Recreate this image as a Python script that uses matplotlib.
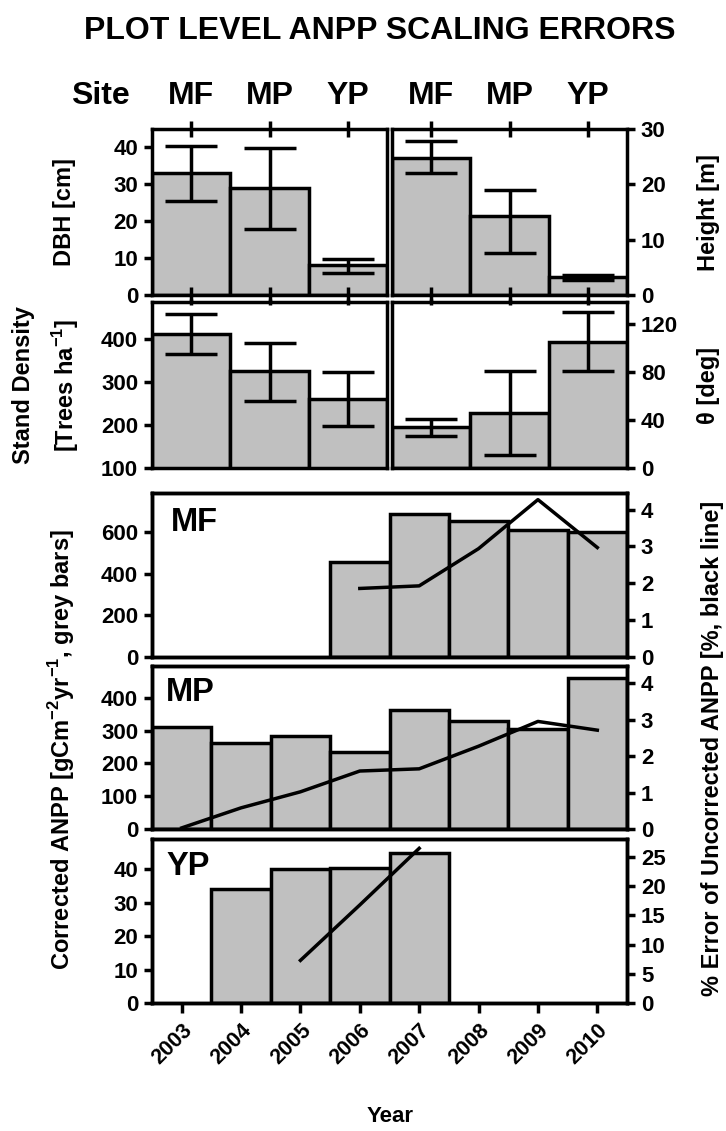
import numpy as np
import matplotlib
matplotlib.use("Agg")
import matplotlib.pyplot as plt

plt.rcParams["font.family"] = ["Liberation Sans", "DejaVu Sans"]
plt.rcParams["font.weight"] = "bold"
plt.rcParams["axes.linewidth"] = 2.5
plt.rcParams["mathtext.fontset"] = "custom"
plt.rcParams["mathtext.rm"] = "Liberation Sans:bold"
plt.rcParams["mathtext.bf"] = "Liberation Sans:bold"

# --- site summary (top two rows) ---
sites = ["MF", "MP", "YP"]
dbh = [33.0, 29.0, 8.0]
dbh_lo = [25.5, 18.0, 5.9]
dbh_hi = [40.5, 39.8, 9.7]
height = [24.8, 14.2, 3.2]
height_lo = [22.0, 7.6, 2.7]
height_hi = [27.9, 19.0, 3.6]
density = [413, 326, 261]
density_lo = [365, 256, 197]
density_hi = [458, 391, 323]
theta = [34, 46, 105]
theta_lo = [26.5, 11, 80.5]
theta_hi = [41, 80.5, 130]

# --- annual ANPP (bottom three rows) ---
years = [2003, 2004, 2005, 2006, 2007, 2008, 2009, 2010]
mf_years = [2006, 2007, 2008, 2009, 2010]
mf_anpp = [455, 685, 655, 610, 600]
mf_err = [1.86, 1.93, 2.94, 4.27, 2.97]
mp_years = [2003, 2004, 2005, 2006, 2007, 2008, 2009, 2010]
mp_anpp = [311, 263, 283, 234, 364, 328, 305, 460]
mp_err = [0.03, 0.58, 1.02, 1.59, 1.65, 2.27, 2.95, 2.71]
yp_years = [2004, 2005, 2006, 2007]
yp_anpp = [34.1, 40.0, 40.4, 44.8]
yp_err_years = [2005, 2006, 2007]
yp_err = [7.3, 16.8, 26.5]

W, H = 726, 1131
GREY = "#c0c0c0"
TICK_FS = 16
LAB_FS = 17

fig = plt.figure(figsize=(W / 100, H / 100), dpi=100)


def px_axes(x0, y0, x1, y1):
    return fig.add_axes([x0 / W, 1 - y1 / H, (x1 - x0) / W, (y1 - y0) / H])


def site_panel(ax, vals, lo, hi, ylim, yticks, side):
    x = np.arange(len(sites))
    yerr = [np.array(vals) - np.array(lo), np.array(hi) - np.array(vals)]
    ax.bar(x, vals, width=1.0, color=GREY, edgecolor="black", linewidth=2.5)
    ax.errorbar(x, vals, yerr=yerr, fmt="none", ecolor="black",
                elinewidth=2.5, capsize=19, capthick=2.5)
    ax.set_xlim(-0.5, len(sites) - 0.5)
    ax.set_ylim(*ylim)
    ax.set_yticks(yticks)
    ax.set_xticks(x)
    ax.set_xticklabels([])
    if side == "right":
        ax.yaxis.tick_right()
    ax.tick_params(axis="y", direction="out", length=6, width=2.5,
                   labelsize=TICK_FS, pad=4)


# row 1: DBH / height
ax_dbh = px_axes(152, 129, 387, 295)
site_panel(ax_dbh, dbh, dbh_lo, dbh_hi, (0, 45), [0, 10, 20, 30, 40], "left")
ax_h = px_axes(392, 129, 627, 295)
site_panel(ax_h, height, height_lo, height_hi, (0, 30), [0, 10, 20, 30], "right")
for ax in (ax_dbh, ax_h):
    ax.tick_params(axis="x", top=True, bottom=True, direction="inout",
                   length=12, width=2.5)

# row 2: stand density / theta
ax_sd = px_axes(152, 302, 387, 468)
site_panel(ax_sd, density, density_lo, density_hi, (100, 487),
           [100, 200, 300, 400], "left")
ax_th = px_axes(392, 302, 627, 468)
site_panel(ax_th, theta, theta_lo, theta_hi, (0, 138), [0, 40, 80, 120], "right")
for ax in (ax_sd, ax_th):
    ax.tick_params(axis="x", top=True, bottom=False, direction="inout",
                   length=5, width=2.5)

# site header
fig.text(100 / W, 1 - 96 / H, "Site", fontsize=23, ha="center", va="center")
for ax in (ax_dbh, ax_h):
    for i, s in enumerate(sites):
        xd = ax.transData.transform((i, 0))[0]
        fig.text(xd / W, 1 - 96 / H, s, fontsize=23, ha="center", va="center")


def anpp_panel(ax, yrs, vals, err_yrs, err, ylim, yticks, ylim2, yticks2,
               name, label_xy):
    ax.bar(yrs, vals, width=1.0, color=GREY, edgecolor="black", linewidth=2.5)
    ax.set_xlim(2002.5, 2010.5)
    ax.set_ylim(*ylim)
    ax.set_yticks(yticks)
    ax.set_xticks(years)
    ax.tick_params(axis="y", direction="out", length=6, width=2.5,
                   labelsize=TICK_FS, pad=4)
    ax.tick_params(axis="x", bottom=False, labelbottom=False)
    ax2 = ax.twinx()
    ax2.plot(err_yrs, err, color="black", linewidth=2.5)
    ax2.set_ylim(*ylim2)
    ax2.set_yticks(yticks2)
    ax2.tick_params(axis="y", direction="out", length=6, width=2.5,
                    labelsize=TICK_FS, pad=4)
    ax.text(label_xy[0], label_xy[1], name, transform=ax.transAxes,
            fontsize=23.5, ha="left", va="center")
    return ax2


ax_mf = px_axes(152, 493, 627, 657)
anpp_panel(ax_mf, mf_years, mf_anpp, mf_years, mf_err, (0, 787),
           [0, 200, 400, 600], (0, 4.45), [0, 1, 2, 3, 4], "MF", (0.04, 0.82))
ax_mp = px_axes(152, 666, 627, 829)
anpp_panel(ax_mp, mp_years, mp_anpp, mp_years, mp_err, (0, 497),
           [0, 100, 200, 300, 400], (0, 4.47), [0, 1, 2, 3, 4], "MP",
           (0.03, 0.84))
ax_yp = px_axes(152, 839, 627, 1003)
anpp_panel(ax_yp, yp_years, yp_anpp, yp_err_years, yp_err, (0, 49),
           [0, 10, 20, 30, 40], (0, 28.1), [0, 5, 10, 15, 20, 25], "YP",
           (0.03, 0.83))
ax_yp.tick_params(axis="x", bottom=True, labelbottom=True, direction="out",
                  length=7, width=2.5, labelsize=15.5, pad=5)
ax_yp.set_xticklabels([str(y) for y in years], rotation=45, ha="right",
                      rotation_mode="anchor")

# titles and axis labels
fig.text(380 / W, 1 - 31 / H, "PLOT LEVEL ANPP SCALING ERRORS", fontsize=23,
         ha="center", va="center")
fig.text(390 / W, 1 - 1117 / H, "Year", fontsize=16, ha="center", va="center")
fig.text(64 / W, 1 - 212 / H, "DBH [cm]", fontsize=LAB_FS, rotation=90,
         ha="center", va="center")
fig.text(24 / W, 1 - 385 / H, "Stand Density", fontsize=LAB_FS, rotation=90,
         ha="center", va="center")
fig.text(66 / W, 1 - 385 / H, "[Trees ha$^{\\mathbf{-1}}$]", fontsize=LAB_FS,
         rotation=90, ha="center", va="center")
fig.text(62 / W, 1 - 750 / H,
         "Corrected ANPP [gCm$^{\\mathbf{-2}}$yr$^{\\mathbf{-1}}$, grey bars]",
         fontsize=LAB_FS, rotation=90, ha="center", va="center")
fig.text(708 / W, 1 - 212 / H, "Height [m]", fontsize=LAB_FS, rotation=90,
         ha="center", va="center")
fig.text(708 / W, 1 - 385 / H, "\u03b8 [deg]", fontsize=LAB_FS, rotation=90,
         ha="center", va="center")
fig.text(712 / W, 1 - 748 / H, "% Error of Uncorrected ANPP [%, black line]",
         fontsize=LAB_FS, rotation=90, ha="center", va="center")

fig.savefig("out.png", dpi=100)
